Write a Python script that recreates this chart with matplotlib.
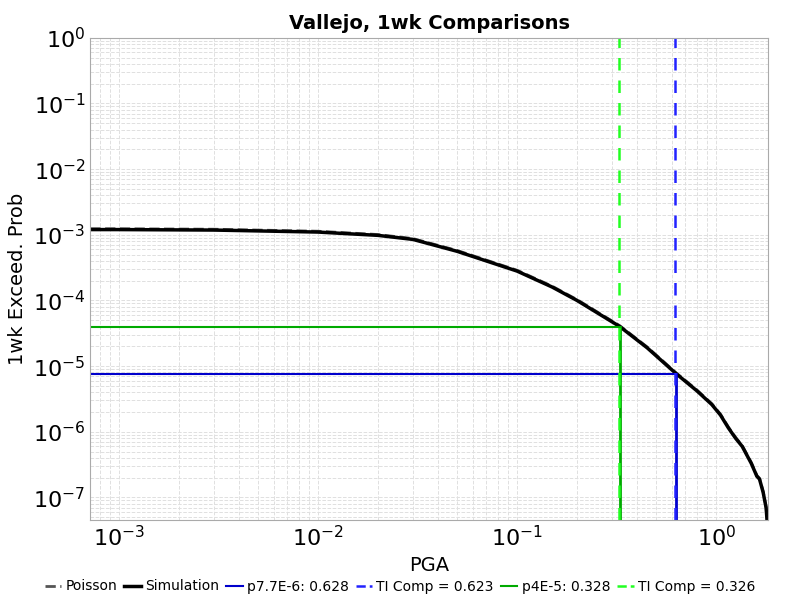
import numpy as np
import matplotlib
matplotlib.use("Agg")
import matplotlib.pyplot as plt
from matplotlib.lines import Line2D

# curve
pga = [7.2e-4, 0.001, 0.003, 0.01, 0.02, 0.03, 0.05, 0.07, 0.1, 0.15, 0.2, 0.328, 0.45,
       0.628, 0.8, 0.95, 1.05, 1.15, 1.25, 1.35, 1.5, 1.6, 1.65, 1.72, 1.78, 1.82]
prob = [1.2e-3, 1.2e-3, 1.18e-3, 1.1e-3, 9.8e-4, 8.5e-4, 5.6e-4, 4.0e-4, 2.8e-4, 1.6e-4,
        1.0e-4, 4.0e-5, 1.9e-5, 7.7e-6, 4.2e-6, 2.6e-6, 1.8e-6, 1.15e-6, 8.0e-7, 6.0e-7,
        3.3e-7, 2.1e-7, 1.9e-7, 1.2e-7, 7.0e-8, 3.0e-8]
blue_p, blue_x, blue_ti = 7.7e-6, 0.628, 0.623
green_p, green_x, green_ti = 4e-5, 0.328, 0.326

fig, ax = plt.subplots(figsize=(8, 6), dpi=100)
fig.subplots_adjust(left=0.113, right=0.96, top=0.937, bottom=0.133)
xlo, xhi, ylo, yhi = 7.2e-4, 1.82, 4.5e-8, 1.0

ax.plot(pga, [p * 1.03 for p in prob], color="#555555", lw=2, ls="--")
ax.plot(pga, prob, color="black", lw=2.5)
ax.plot([xlo, blue_x], [blue_p, blue_p], color="#0000cc", lw=1.5)
ax.plot([blue_x, blue_x], [ylo, blue_p], color="#0000cc", lw=2)
ax.axvline(blue_ti, color="#2222ff", lw=1.8, ls=(0, (5, 4)))
ax.plot([xlo, green_x], [green_p, green_p], color="#00aa00", lw=1.5)
ax.plot([green_x, green_x], [ylo, green_p], color="#00aa00", lw=2)
ax.axvline(green_ti, color="#22ff22", lw=1.8, ls=(0, (5, 4)))

ax.set_xscale("log")
ax.set_yscale("log")
ax.set_xlim(xlo, xhi)
ax.set_ylim(ylo, yhi)
ax.set_xticks([1e-3, 1e-2, 1e-1, 1e0])
ax.set_yticks([1e-7, 1e-6, 1e-5, 1e-4, 1e-3, 1e-2, 1e-1, 1e0])
ax.tick_params(which="both", labelsize=16, length=0)
ax.grid(True, which="both", color="#e0e0e0", ls="--", lw=0.7)
for s in ax.spines.values():
    s.set_color("#aaaaaa")
ax.set_xlabel("PGA", fontsize=14)
ax.set_ylabel("1wk Exceed. Prob", fontsize=14)
ax.set_title("Vallejo, 1wk Comparisons", fontsize=14, fontweight="bold")

handles = [
    Line2D([], [], color="#555555", lw=2, ls="--"),
    Line2D([], [], color="black", lw=2.5),
    Line2D([], [], color="#0000cc", lw=1.5),
    Line2D([], [], color="#2222ff", lw=1.8, ls="--"),
    Line2D([], [], color="#00aa00", lw=1.5),
    Line2D([], [], color="#22ff22", lw=1.8, ls="--"),
]
labels = ["Poisson", "Simulation", f"p7.7E-6: {blue_x}", f"TI Comp = {blue_ti}",
          f"p4E-5: {green_x}", f"TI Comp = {green_ti}"]
fig.legend(handles, labels, loc="lower center", ncol=6, frameon=False, fontsize=10,
           handlelength=1.2, handletextpad=0.3, columnspacing=0.5, bbox_to_anchor=(0.5, -0.01))
fig.savefig("out.png")
